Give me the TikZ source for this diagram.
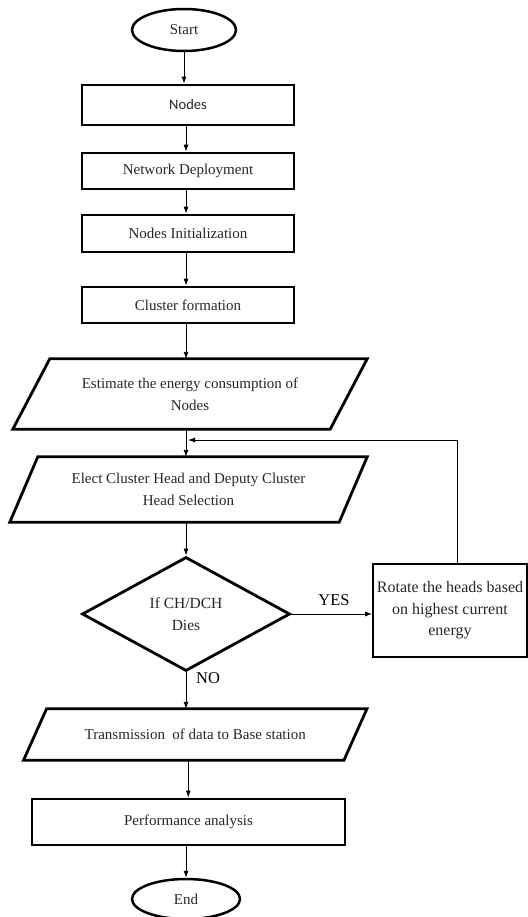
\documentclass[tikz,border=0pt]{standalone}
\usepackage{fontspec}
\setmainfont{Liberation Serif}
\newfontfamily\calibrifont{Carlito}
\usetikzlibrary{shapes.geometric,arrows.meta}
\tikzset{
  base/.style={font=\fontsize{15}{22}\selectfont, align=center, inner sep=0pt, text=black!85},
  procbox/.style={base, draw, line width=2.8pt, minimum width=212pt},
  term/.style={base, draw, ellipse, line width=2.5pt},
  parabox/.style={base, minimum height=#1},
  paraline/.style={line width=2.8pt, line join=miter},
  conn/.style={-{Latex[length=7pt,width=5pt]}, line width=0.9pt},
  lbl/.style={font=\fontsize{16.5}{20}\selectfont, inner sep=0pt}
}
\begin{document}
\begin{tikzpicture}[x=1pt,y=-1pt]
\useasboundingbox (0,0) rectangle (527,917);

% terminals and process boxes
\node[term, minimum width=104pt, minimum height=42pt] (start) at (184,30) {Start};
\node[procbox, minimum height=40pt] (nodes) at (188,105) {\calibrifont\fontsize{14.5}{18}\selectfont Nodes};
\node[procbox, minimum height=36pt] (net) at (188,171) {Network Deployment};
\node[procbox, minimum height=37pt] (init) at (188,233.5) {Nodes Initialization};
\node[procbox, minimum height=36pt] (clus) at (188,305) {Cluster formation};

% estimate parallelogram
\node[parabox=70pt, minimum width=317pt] (est) at (190,394) {Estimate the energy consumption of\\Nodes};
\draw[paraline] ([xshift=18.5pt]est.north west) -- ([xshift=18.5pt]est.north east)
  -- ([xshift=-18.5pt]est.south east) -- ([xshift=-18.5pt]est.south west) -- cycle;

% elect parallelogram
\node[parabox=65pt, minimum width=329pt] (elect) at (188.5,489.5) {Elect Cluster Head and Deputy Cluster\\Head Selection};
\draw[paraline] ([xshift=14pt]elect.north west) -- ([xshift=14pt]elect.north east)
  -- ([xshift=-14pt]elect.south east) -- ([xshift=-14pt]elect.south west) -- cycle;

% decision
\node[base, draw, diamond, line width=2.8pt, minimum width=208pt, minimum height=114pt,
      font=\fontsize{15.5}{22}\selectfont] (dec) at (186,614) {If CH/DCH\\Dies};

% rotate box
\node[base, draw, line width=1.8pt, minimum width=154pt, minimum height=93pt,
      font=\fontsize{16}{21.5}\selectfont] (rot) at (450,610.5) {Rotate the heads based\\on highest current\\energy};

% transmission parallelogram
\node[parabox=51pt, minimum width=320pt] (trans) at (195.25,734.5) {Transmission~ of data to Base station};
\draw[paraline] ([xshift=11.5pt]trans.north west) -- ([xshift=11.5pt]trans.north east)
  -- ([xshift=-11.5pt]trans.south east) -- ([xshift=-11.5pt]trans.south west) -- cycle;

% performance
\node[procbox, minimum width=313pt, minimum height=46pt] (perf) at (188.5,822) {Performance analysis};

\node[term, minimum width=108pt, minimum height=40pt] (end) at (186,899) {End};

% connectors
\draw[conn] (start.south) -- (start.south |- nodes.north);
\draw[conn] ([xshift=-2pt]nodes.south) -- ([xshift=-2pt]nodes.south |- net.north);
\draw[conn] ([xshift=-2pt]net.south) -- ([xshift=-2pt]net.south |- init.north);
\draw[conn] ([xshift=-2pt]init.south) -- ([xshift=-2pt]init.south |- clus.north);
\draw[conn] ([xshift=-2pt]clus.south) -- ([xshift=-2pt]clus.south |- est.north);
\draw[conn] ([xshift=-4pt]est.south) -- ([xshift=-4pt]est.south |- elect.north);
\draw[conn] ([xshift=-2.5pt]elect.south) -- (dec.north);
\draw[conn] (dec.east) -- (dec.east -| rot.west);
\draw[conn] (dec.south) -- (dec.south |- trans.north);
\draw[conn] ([xshift=-7pt]trans.south) -- ([xshift=-7pt]trans.south |- perf.north);
\draw[conn] ([xshift=-2.5pt]perf.south) -- ([xshift=-2.5pt]perf.south |- end.north);

% feedback loop
\coordinate (join) at (188,440);
\draw[conn] ([xshift=7pt]rot.north) |- (join);

% labels
\node[lbl, anchor=south] (yes) at (334,606) {YES};
\node[lbl, anchor=west] (no) at (196,678) {NO};
\end{tikzpicture}
\end{document}
